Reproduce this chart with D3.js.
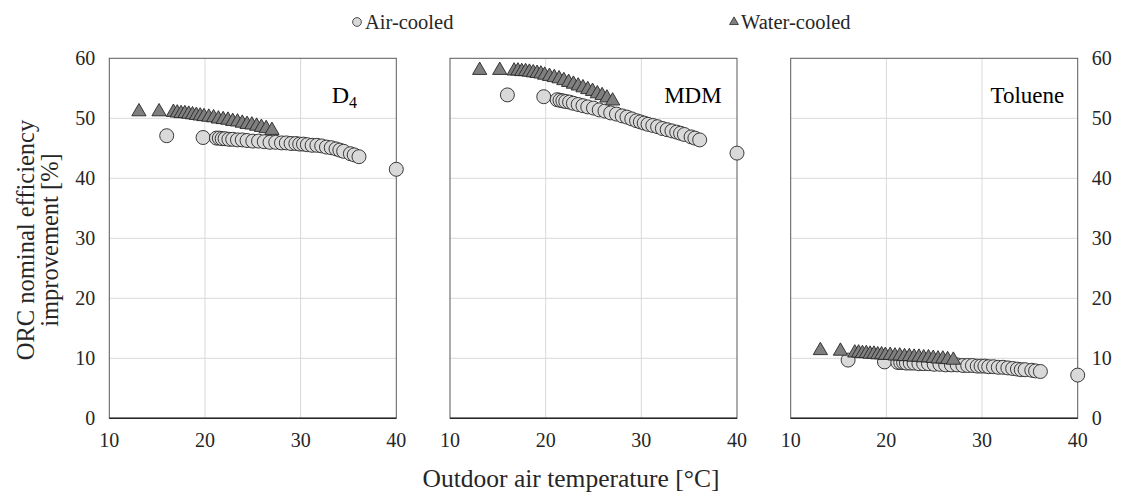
<!DOCTYPE html>
<html>
<head>
<meta charset="utf-8">
<script src="https://cdn.jsdelivr.net/npm/d3@7"></script>
<style>
  html, body { margin: 0; padding: 0; background: #fff; }
  svg { display: block; }
  svg text { font-family: "Liberation Serif", "DejaVu Serif", serif; }
</style>
</head>
<body>
<div id="chart"></div>
<script>
// Three panels: ORC efficiency improvement vs outdoor air temperature
// circles = air-cooled, triangles = water-cooled

// outdoor temperatures (same hours for every fluid)
const airTemp = [16.0, 19.8, 21.2, 21.5, 21.8, 22.1, 22.5, 22.9, 23.4, 23.9, 24.4, 25.0, 25.6, 26.2, 26.8, 27.4, 28.0, 28.5, 29.0, 29.5, 29.9, 30.3, 30.7, 31.2, 31.7, 32.2, 32.7, 33.2, 33.7, 34.1, 34.5, 35.2, 35.6, 36.1, 40.0];
const waterTemp = [13.1, 15.2, 16.7, 17.1, 17.5, 17.9, 18.3, 18.7, 19.1, 19.5, 19.9, 20.4, 20.9, 21.4, 21.9, 22.4, 22.9, 23.4, 23.9, 24.4, 24.9, 25.4, 25.9, 26.4, 27.0];

// efficiency improvement [%]
const d4Air = [47.1, 46.8, 46.7, 46.7, 46.6, 46.6, 46.5, 46.5, 46.4, 46.4, 46.3, 46.2, 46.2, 46.1, 46.0, 46.0, 45.9, 45.9, 45.8, 45.8, 45.7, 45.7, 45.6, 45.5, 45.5, 45.4, 45.2, 45.1, 44.9, 44.7, 44.5, 44.1, 43.9, 43.6, 41.5];
const d4Water = [51.1, 51.1, 51.0, 50.9, 50.8, 50.8, 50.7, 50.6, 50.5, 50.4, 50.3, 50.2, 50.1, 49.9, 49.8, 49.7, 49.5, 49.4, 49.2, 49.0, 48.9, 48.7, 48.5, 48.3, 48.0];
const mdmAir = [53.9, 53.6, 53.1, 53.0, 52.9, 52.8, 52.7, 52.5, 52.3, 52.1, 51.9, 51.7, 51.4, 51.2, 50.9, 50.7, 50.4, 50.2, 49.9, 49.6, 49.4, 49.2, 49.0, 48.8, 48.6, 48.3, 48.1, 47.9, 47.7, 47.5, 47.3, 46.9, 46.7, 46.4, 44.2];
const mdmWater = [58.0, 58.0, 57.9, 57.9, 57.8, 57.8, 57.7, 57.6, 57.5, 57.4, 57.2, 57.0, 56.8, 56.6, 56.3, 56.0, 55.7, 55.4, 55.1, 54.8, 54.5, 54.1, 53.8, 53.4, 52.9];
const tolAir = [9.7, 9.4, 9.3, 9.3, 9.3, 9.2, 9.2, 9.2, 9.1, 9.1, 9.1, 9.0, 9.0, 8.9, 8.9, 8.9, 8.8, 8.8, 8.8, 8.7, 8.7, 8.7, 8.6, 8.6, 8.5, 8.5, 8.4, 8.3, 8.2, 8.1, 8.1, 8.0, 7.9, 7.8, 7.2];
const tolWater = [11.3, 11.2, 10.9, 10.9, 10.8, 10.8, 10.7, 10.7, 10.6, 10.6, 10.5, 10.5, 10.4, 10.4, 10.3, 10.3, 10.2, 10.2, 10.1, 10.1, 10.0, 9.9, 9.9, 9.8, 9.7];

const xTicks = [10, 20, 30, 40];
const yTicks = [0, 10, 20, 30, 40, 50, 60];
const fluids = ["D4", "MDM", "Toluene"];

const WIDTH = 1122, HEIGHT = 494;
const plotTop = 58.3, plotBottom = 418.3;
const panelLeft = [109.3, 450, 790.7];
const panelW = 287;

const panels = [
  {name: fluids[0], air: d4Air, water: d4Water, labelX: 35.9},
  {name: fluids[1], air: mdmAir, water: mdmWater, labelX: 38.4},
  {name: fluids[2], air: tolAir, water: tolWater, labelX: 38.6}
];

const svg = d3.select("#chart").append("svg")
  .attr("width", WIDTH).attr("height", HEIGHT)
  .attr("font-family", "Liberation Serif, serif");

const y = d3.scaleLinear().domain([0, 60]).range([plotBottom, plotTop]);

const circleSym = d3.symbol().type(d3.symbolCircle).size(154);
const triSym = d3.symbol().type(d3.symbolTriangle).size(88);

panels.forEach((p, i) => {
  const x = d3.scaleLinear().domain([10, 40]).range([panelLeft[i], panelLeft[i] + panelW]);
  const g = svg.append("g");

  // gridlines
  g.selectAll(".vg").data(xTicks.slice(1, -1)).enter().append("line")
    .attr("x1", d => x(d)).attr("x2", d => x(d))
    .attr("y1", plotTop).attr("y2", plotBottom)
    .attr("stroke", "#d9d9d9").attr("stroke-width", 1);
  g.selectAll(".hg").data(yTicks.slice(1, -1)).enter().append("line")
    .attr("x1", x(10)).attr("x2", x(40))
    .attr("y1", d => y(d)).attr("y2", d => y(d))
    .attr("stroke", "#d9d9d9").attr("stroke-width", 1);

  // frame
  g.append("rect")
    .attr("x", x(10)).attr("y", plotTop)
    .attr("width", x(40) - x(10)).attr("height", plotBottom - plotTop)
    .attr("fill", "none").attr("stroke", "#595959").attr("stroke-width", 1);
  g.append("line").attr("x1", x(10)).attr("x2", x(40)).attr("y1", plotBottom).attr("y2", plotBottom)
    .attr("stroke", "#262626").attr("stroke-width", 1.5);

  // x tick labels
  g.selectAll(".xt").data(xTicks).enter().append("text")
    .attr("x", d => x(d)).attr("y", 447)
    .attr("text-anchor", "middle").attr("font-size", 20).attr("fill", "#262626")
    .text(d => d);

  // y tick labels (left of first, right of last panel)
  if (i === 0) {
    g.selectAll(".yt").data(yTicks).enter().append("text")
      .attr("x", x(10) - 14).attr("y", d => y(d) + 7)
      .attr("text-anchor", "end").attr("font-size", 20).attr("fill", "#262626")
      .text(d => d);
  }
  if (i === panels.length - 1) {
    g.selectAll(".yt").data(yTicks).enter().append("text")
      .attr("x", x(40) + 14).attr("y", d => y(d) + 7)
      .attr("text-anchor", "start").attr("font-size", 20).attr("fill", "#262626")
      .text(d => d);
  }

  // air-cooled points
  g.selectAll(".air").data(p.air).enter().append("path")
    .attr("d", circleSym)
    .attr("transform", (d, k) => `translate(${x(airTemp[k])},${y(d)})`)
    .attr("fill", "#d9d9d9").attr("stroke", "#262626").attr("stroke-width", 0.9);

  // water-cooled points
  g.selectAll(".wat").data(p.water).enter().append("path")
    .attr("d", triSym)
    .attr("transform", (d, k) => `translate(${x(waterTemp[k])},${y(d)})`)
    .attr("fill", "#7f7f7f").attr("stroke", "#262626").attr("stroke-width", 0.9);

  // fluid label
  const lab = g.append("text")
    .attr("x", x(p.labelX)).attr("y", y(52.5))
    .attr("text-anchor", "end").attr("font-size", 23).attr("fill", "#000");
  if (p.name === "D4") {
    lab.append("tspan").attr("font-size", 24).text("D");
    lab.append("tspan").attr("font-size", 16).attr("dy", 5).text("4");
  } else {
    lab.text(p.name);
  }
});

// axis titles
svg.append("text")
  .attr("x", 571).attr("y", 487)
  .attr("text-anchor", "middle").attr("font-size", 25.5).attr("fill", "#262626")
  .text("Outdoor air temperature [°C]");

const yt = svg.append("text")
  .attr("transform", "translate(0,240) rotate(-90)")
  .attr("text-anchor", "middle").attr("font-size", 24.5).attr("fill", "#262626");
yt.append("tspan").attr("x", 0).attr("y", 34).text("ORC nominal efficiency");
yt.append("tspan").attr("x", 0).attr("y", 58).text("improvement [%]");

// legend
const leg = svg.append("g");
leg.append("path").attr("d", d3.symbol().type(d3.symbolCircle).size(60))
  .attr("transform", "translate(357,22)")
  .attr("fill", "#d9d9d9").attr("stroke", "#262626").attr("stroke-width", 0.8);
leg.append("text").attr("x", 365).attr("y", 29).attr("font-size", 20.5).attr("fill", "#262626").text("Air-cooled");
leg.append("path").attr("d", d3.symbol().type(d3.symbolTriangle).size(34))
  .attr("transform", "translate(734,22)")
  .attr("fill", "#7f7f7f").attr("stroke", "#262626").attr("stroke-width", 0.8);
leg.append("text").attr("x", 741).attr("y", 29).attr("font-size", 20.5).attr("fill", "#262626").text("Water-cooled");
</script>
</body>
</html>
